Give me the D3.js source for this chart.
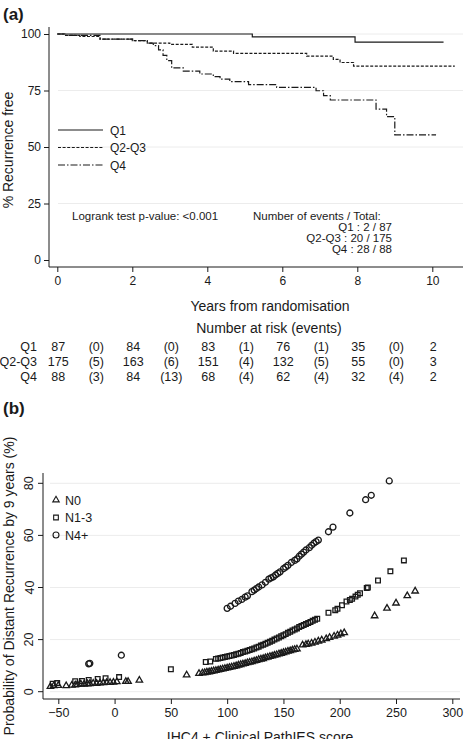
<!DOCTYPE html>
<html>
<head>
<meta charset="utf-8">
<script src="https://cdn.jsdelivr.net/npm/d3@7"></script>
<style>
  body { margin: 0; background: #fff; }
  text { font-family: "Liberation Sans", Arial, sans-serif; fill: #1a1a1a; }
</style>
</head>
<body>
<script>
// ---- panel (a): Kaplan-Meier steps [years, % free] ----
const kmQ1 = [[0,100],[5.2,98.7],[7.94,96.4],[10.3,96.4]];
const kmQ23 = [[0,100],[0.2,99.4],[0.6,98.9],[1.14,97.7],[2.03,97.1],[2.4,96.0],[3.0,95.4],[3.6,94.2],
  [4.16,92.4],[4.7,91.4],[6.65,90.2],[7.36,88.8],[7.54,87.4],[7.9,85.8],[10.6,85.8]];
const kmQ4 = [[0,100],[0.2,99.4],[1.14,97.7],[2.0,97.1],[2.4,96.0],[2.56,94.9],[2.7,93.0],[2.82,90.5],
  [2.92,88.2],[3.05,85.0],[3.36,83.6],[3.8,82.3],[4.16,81.1],[4.34,80.0],[4.6,78.9],[5.1,77.6],
  [5.85,76.4],[6.9,74.9],[7.1,72.7],[7.28,70.8],[8.5,66.8],[8.78,63.4],[9.0,55.4],[10.1,55.4]];

const groupsA = ["Q1", "Q2-Q3", "Q4"];
const eventsText = ["Q1 : 2 / 87", "Q2-Q3 : 20 / 175", "Q4 : 28 / 88"];
const yTicksA = [0, 25, 50, 75, 100];
const xTicksA = [0, 2, 4, 6, 8, 10];

// number at risk at 0,2,4,6,8,10 and events in between
const riskAtTime = [
  [87, 84, 83, 76, 35, 2],
  [175, 163, 151, 132, 55, 3],
  [88, 84, 68, 62, 32, 2]
];
const riskEvents = [
  [0, 0, 1, 1, 0],
  [5, 6, 4, 5, 0],
  [3, 13, 4, 4, 4]
];

// ---- panel (b): predicted probability by score ----
const ptsN0 = [[-57,2.0],[-54,2.3],[-50,2.4],[-43,2.3],[-38,2.5],[-35,2.6],[-33,2.8],[-30,2.9],[-27,2.9],
  [-24,3.0],[-22,3.1],[-19,3.2],[-16,3.2],[-13,3.3],[-10,3.4],[-7,3.5],[-4,3.5],[-1,3.6],[2,3.8],
  [10,3.9],[12,3.9],[22,4.4],[64,6.4],[75,7.0],[78,7.2],[80,7.3],[82,7.5],[84,7.6],[86,7.8],[88,8.0],
  [90,8.1],[92,8.3],[94,8.5],[96,8.7],[98,8.9],[100,9.1],[102,9.3],[104,9.5],[106,9.7],[108,9.9],
  [110,10.2],[112,10.4],[114,10.6],[116,10.8],[118,11.1],[120,11.3],[122,11.5],[124,11.8],[126,12.0],
  [128,12.3],[130,12.5],[132,12.7],[134,13.0],[136,13.2],[138,13.5],[140,13.7],[142,14.0],[144,14.2],
  [146,14.5],[148,14.7],[150,15.0],[152,15.2],[154,15.5],[156,15.7],[158,16.0],[160,16.2],[162,16.4],
  [167,17.9],[170,18.1],[172,18.3],[175,18.6],[178,19.0],[181,19.4],[184,19.8],[188,20.3],[191,20.8],
  [195,21.3],[198,21.7],[201,22.2],[204,22.6],[231,29.1],[242,32.0],[250,34.0],[260,36.8],[267,38.6]];

const ptsN13 = [[-55,3.1],[-51,3.3],[-35,4.0],[-29,4.1],[-23,4.5],[-15,4.9],[-8,5.2],[4,5.6],[50,8.6],
  [81,11.4],[85,11.6],[90,12.6],[92,12.7],[94,12.9],[96,13.1],[98,13.3],[100,13.5],[102,13.7],[104,13.9],
  [106,14.1],[108,14.4],[110,14.6],[112,14.9],[114,15.2],[116,15.4],[118,15.7],[120,16.0],[122,16.3],
  [124,16.6],[126,17.0],[128,17.3],[130,17.7],[132,18.0],[134,18.4],[136,18.8],[138,19.2],[140,19.6],
  [142,20.0],[144,20.4],[146,20.8],[148,21.3],[150,21.7],[152,22.1],[154,22.6],[156,23.0],[158,23.5],
  [160,23.9],[162,24.3],[164,24.8],[166,25.2],[168,25.6],[170,26.0],[172,26.4],[174,26.8],[176,27.2],
  [178,27.6],[180,28.0],[190,30.3],[196,31.3],[198,31.8],[202,33.2],[206,34.6],[209,35.2],[211,35.7],
  [214,36.5],[216,37.2],[218,37.8],[224,39.8],[225,40.0],[234,42.7],[245,46.2],[257,50.4]];

const ptsN4 = [[-23,10.7],[-22,10.9],[6,14.0],[100,32.0],[103,32.8],[107,33.9],[110,34.8],[113,35.4],
  [116,36.3],[118,36.8],[122,38.4],[124,39.0],[126,39.6],[128,40.2],[131,41.0],[134,42.0],[137,43.2],
  [139,43.7],[141,44.1],[143,44.8],[145,45.4],[147,46.0],[150,47.2],[152,47.8],[154,48.5],[157,49.6],
  [160,50.4],[162,51.0],[164,52.0],[166,52.8],[168,53.6],[170,54.4],[173,55.3],[175,56.2],[177,57.0],
  [179,57.6],[181,58.2],[190,61.4],[194,63.2],[209,68.6],[223,73.7],[228,75.4],[244,80.9]];

const groupsB = ["N0", "N1-3", "N4+"];
const xTicksB = [-50, 0, 50, 100, 150, 200, 250, 300];
const yTicksB = [0, 20, 40, 60, 80];

const W = 469, H = 739;
const ink = "#1a1a1a", grid = "#ececec";

const svg = d3.select("body").append("svg")
  .attr("width", W).attr("height", H);

// ================= panel (a) =================
const xA = d3.scaleLinear().domain([0, 10]).range([57.3, 432.3]);
const yA = d3.scaleLinear().domain([0, 100]).range([260, 34]);

svg.append("text").attr("x", 3).attr("y", 20)
  .attr("font-size", 17).attr("font-weight", "bold").text("(a)");

// gridlines
svg.append("g").selectAll("line")
  .data(yTicksA.filter(d => d > 0))
  .enter().append("line")
  .attr("x1", 58).attr("x2", 463)
  .attr("y1", d => yA(d)).attr("y2", d => yA(d))
  .attr("stroke", grid).attr("stroke-width", 1);

const axYA = svg.append("g").attr("transform", "translate(49,0)")
  .call(d3.axisLeft(yA).tickValues(yTicksA).tickSize(5).tickPadding(3));
axYA.select(".domain").remove();
axYA.selectAll("line").attr("stroke", ink);
axYA.selectAll("text").attr("font-size", 12).attr("font-family", "Liberation Sans").attr("fill", ink);
svg.append("line").attr("x1", 49).attr("x2", 49).attr("y1", 27).attr("y2", 267)
  .attr("stroke", ink);

const axXA = svg.append("g").attr("transform", "translate(0,267)")
  .call(d3.axisBottom(xA).tickValues(xTicksA).tickSize(5).tickPadding(4));
axXA.select(".domain").remove();
axXA.selectAll("line").attr("stroke", ink);
axXA.selectAll("text").attr("font-size", 12).attr("font-family", "Liberation Sans").attr("fill", ink);
svg.append("line").attr("x1", 49).attr("x2", 463).attr("y1", 267).attr("y2", 267)
  .attr("stroke", ink);

svg.append("text").attr("transform", "translate(13,150) rotate(-90)")
  .attr("text-anchor", "middle").attr("font-size", 14).text("% Recurrence free");
svg.append("text").attr("x", 270).attr("y", 311)
  .attr("text-anchor", "middle").attr("font-size", 14).text("Years from randomisation");

// KM curves
const dashes = [null, "3,1.6", "7,2,1.5,2"];
const stepLine = d3.line().x(d => xA(d[0])).y(d => yA(d[1])).curve(d3.curveStepAfter);
[kmQ1, kmQ23, kmQ4].forEach((km, i) => {
  svg.append("path").datum(km)
    .attr("d", stepLine)
    .attr("fill", "none").attr("stroke", ink).attr("stroke-width", 1.2)
    .attr("stroke-dasharray", dashes[i]);
});

// legend
groupsA.forEach((g, i) => {
  const ly = 130 + i * 17.5;
  svg.append("line").attr("x1", 58).attr("x2", 103).attr("y1", ly).attr("y2", ly)
    .attr("stroke", ink).attr("stroke-width", 1.2).attr("stroke-dasharray", dashes[i]);
  svg.append("text").attr("x", 110).attr("y", ly + 4.5).attr("font-size", 12).text(g);
});

// annotations
svg.append("text").attr("x", 72).attr("y", 220).attr("font-size", 11.5)
  .text("Logrank test p-value: <0.001");
svg.append("text").attr("x", 253).attr("y", 220).attr("font-size", 11.5)
  .text("Number of events / Total:");
eventsText.forEach((t, i) => {
  svg.append("text").attr("x", 392).attr("y", 231 + i * 11)
    .attr("text-anchor", "end").attr("font-size", 11.5).text(t);
});

// number at risk table
svg.append("text").attr("x", 269).attr("y", 333)
  .attr("text-anchor", "middle").attr("font-size", 14).text("Number at risk (events)");
groupsA.forEach((g, i) => {
  const ry = 351 + i * 15;
  svg.append("text").attr("x", 37).attr("y", ry).attr("text-anchor", "end")
    .attr("font-size", 12.5).text(g);
  svg.append("g").selectAll("text")
    .data(riskAtTime[i]).enter().append("text")
    .attr("x", (d, j) => xA(j * 2) + 1).attr("y", ry)
    .attr("text-anchor", "middle").attr("font-size", 12.5).text(d => d);
  svg.append("g").selectAll("text")
    .data(riskEvents[i]).enter().append("text")
    .attr("x", (d, j) => xA(j * 2 + 1) + 1.5).attr("y", ry)
    .attr("text-anchor", "middle").attr("font-size", 12.5).text(d => `(${d})`);
});

// ================= panel (b) =================
const xB = d3.scaleLinear().domain([-50, 300]).range([58.3, 452.3]);
const yB = d3.scaleLinear().domain([0, 80]).range([691.7, 483.3]);

svg.append("text").attr("x", 3).attr("y", 414)
  .attr("font-size", 17).attr("font-weight", "bold").text("(b)");

svg.append("g").selectAll("line")
  .data(yTicksB)
  .enter().append("line")
  .attr("x1", 50).attr("x2", 460)
  .attr("y1", d => yB(d)).attr("y2", d => yB(d))
  .attr("stroke", grid).attr("stroke-width", 1);

const axYB = svg.append("g").attr("transform", "translate(43,0)")
  .call(d3.axisLeft(yB).tickValues(yTicksB).tickSize(5));
axYB.select(".domain").remove();
axYB.selectAll(".tick").attr("transform", null);
axYB.selectAll(".tick line").attr("stroke", ink)
  .attr("y1", d => yB(d)).attr("y2", d => yB(d));
axYB.selectAll(".tick text")
  .attr("font-size", 12.5).attr("font-family", "Liberation Sans").attr("fill", ink)
  .attr("text-anchor", "middle").attr("x", -9.5).attr("y", d => yB(d)).attr("dy", 0)
  .attr("transform", d => `rotate(-90,-9.5,${yB(d)})`);
svg.append("line").attr("x1", 43).attr("x2", 43).attr("y1", 473).attr("y2", 699)
  .attr("stroke", ink);

const axXB = svg.append("g").attr("transform", "translate(0,699)")
  .call(d3.axisBottom(xB).tickValues(xTicksB).tickSize(5).tickPadding(4));
axXB.select(".domain").remove();
axXB.selectAll("line").attr("stroke", ink);
axXB.selectAll("text").attr("font-size", 12.5).attr("font-family", "Liberation Sans").attr("fill", ink);
svg.append("line").attr("x1", 43).attr("x2", 460).attr("y1", 699).attr("y2", 699)
  .attr("stroke", ink);

svg.append("text").attr("x", 260).attr("y", 742)
  .attr("text-anchor", "middle").attr("font-size", 14).text("IHC4 + Clinical PathIES score");
svg.append("text").attr("transform", "translate(14,586) rotate(-90)")
  .attr("text-anchor", "middle").attr("font-size", 14)
  .text("Probability of Distant Recurrence by 9 years (%)");

// markers
const symbols = [
  d3.symbol().type(d3.symbolTriangle2).size(30),
  d3.symbol().type(d3.symbolSquare2).size(28),
  d3.symbol().type(d3.symbolCircle).size(28)
];
[ptsN0, ptsN13, ptsN4].forEach((pts, i) => {
  svg.append("g").selectAll("path")
    .data(pts).enter().append("path")
    .attr("transform", d => `translate(${xB(d[0])},${yB(d[1])})`)
    .attr("d", symbols[i]())
    .attr("fill", "none").attr("stroke", ink).attr("stroke-width", 1.3);
});

// legend
groupsB.forEach((g, i) => {
  const ly = 500 + i * 17.5;
  svg.append("path").attr("transform", `translate(56,${ly})`)
    .attr("d", symbols[i]())
    .attr("fill", "none").attr("stroke", ink).attr("stroke-width", 1.1);
  svg.append("text").attr("x", 65).attr("y", ly + 4.5).attr("font-size", 12.5).text(g);
});
</script>
</body>
</html>
